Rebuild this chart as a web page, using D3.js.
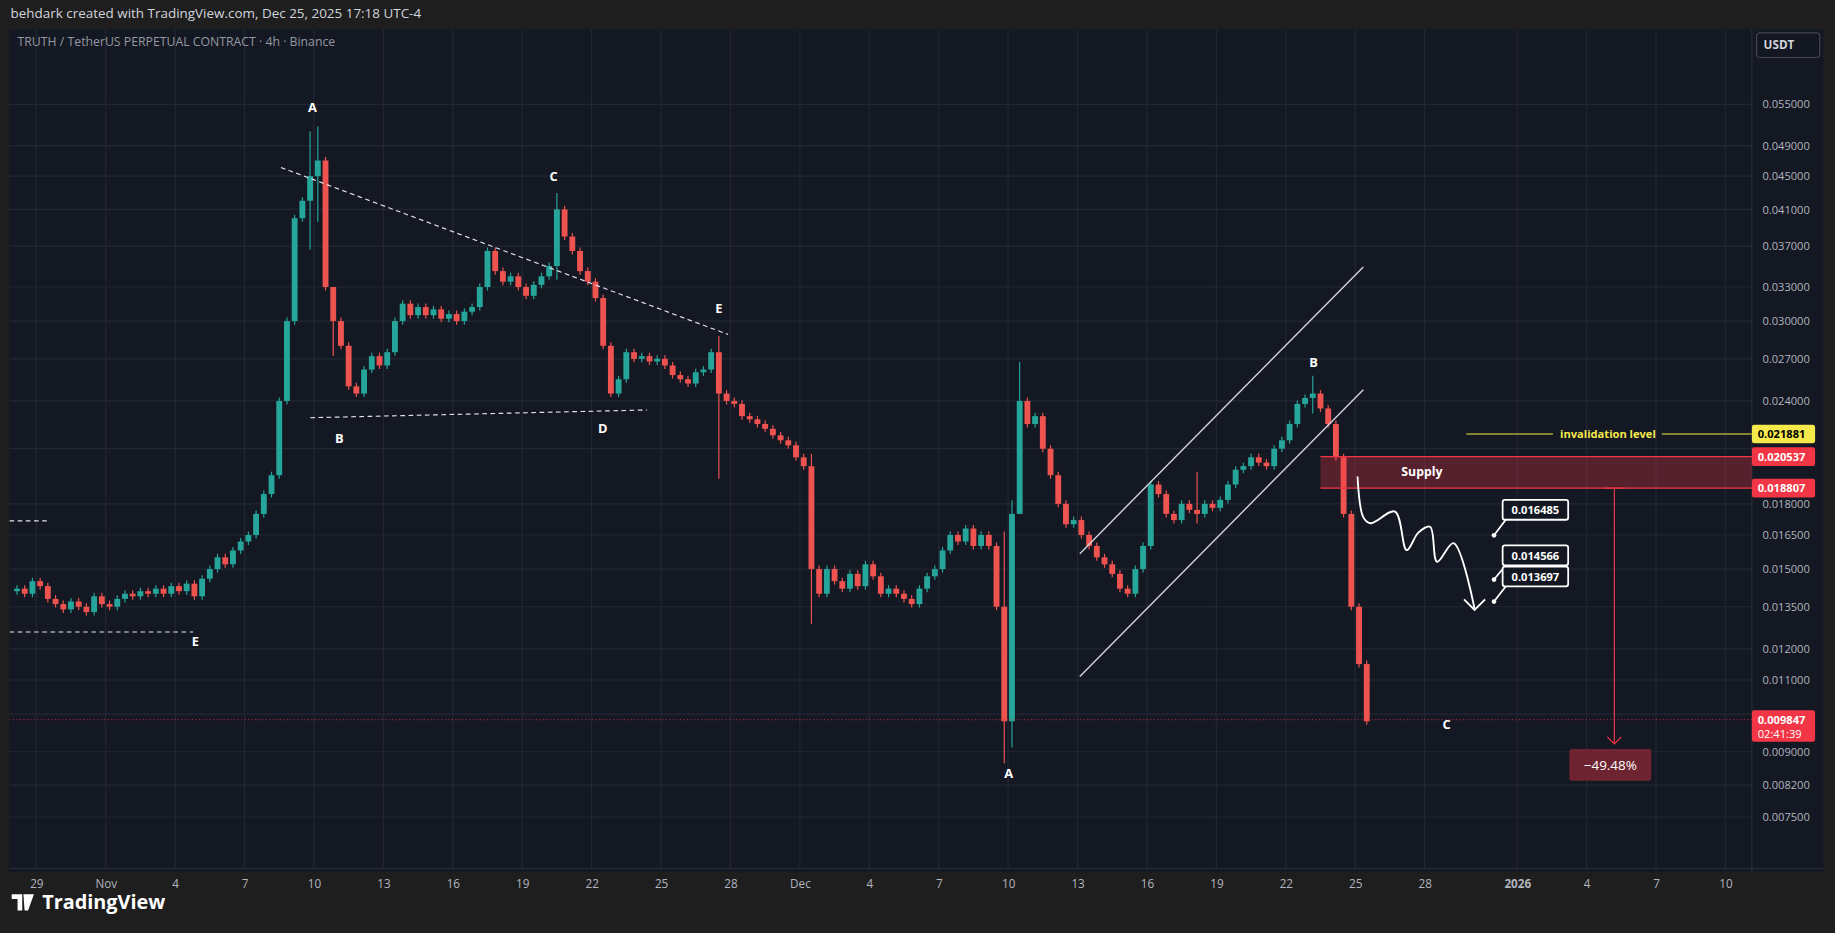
<!DOCTYPE html>
<html><head><meta charset="utf-8">
<script src="https://cdn.jsdelivr.net/npm/d3@7"></script>
<style>body{margin:0;background:#1e1e1e;overflow:hidden}svg{display:block}</style>
</head><body><div id="chart"></div>
<script>
// 8h closes, one row per day starting Oct 28
const closes = [
  .0142,.0140,.0145, .0143,.0138,.0136, .0134,.0137,.0135, .0133,.0139,.0136,
  .0135,.0138,.0140, .0139,.0141,.0140, .0142,.0140,.0143, .0141,.0144,.0139,
  .0146,.0150,.0155, .0152,.0158,.0162, .0165,.0175,.0185, .0195,.0240,.0300,
  .0400,.0420,.0450, .0470,.0330,.0300, .0280,.0250,.0245, .0262,.0272,.0265,
  .0275,.0300,.0315, .0305,.0312,.0305, .0310,.0302,.0306, .0300,.0308,.0312,
  .0330,.0365,.0345, .0335,.0340,.0330, .0322,.0332,.0340, .0350,.0410,.0380,
  .0365,.0345,.0335, .0320,.0280,.0245, .0255,.0275,.0270, .0272,.0268,.0270,
  .0265,.0258,.0255, .0252,.0260,.0262, .0275,.0245,.0240, .0238,.0230,.0228,
  .0225,.0222,.0218, .0215,.0212,.0205, .0200,.0150,.0140, .0150,.0145,.0142,
  .0148,.0143,.0152, .0147,.0140,.0142, .0140,.0138,.0136, .0142,.0147,.0150,
  .0158,.0165,.0162, .0168,.0160,.0165, .0160,.0135,.0098, .0175,.0240,.0225,
  .0230,.0210,.0195, .0180,.0170,.0172, .0165,.0160,.0155, .0152,.0148,.0142,
  .0140,.0150,.0160, .0190,.0185,.0175, .0172,.0180,.0177, .0175,.0180,.0178,
  .0182,.0190,.0198, .0200,.0205,.0202, .0200,.0210,.0215, .0225,.0238,.0242,
  .0245,.0235,.0225, .0205,.0175,.0135, .0115,.0098
];
const firstOpen = .0141;
// notable wick extremes: [candle index, high, low]
const wicks = [[38,.0505,.037],[39,.0512,.040],[41,.0310,.0275],[70,.0425,.034],[91,.0285,.0195],[103,.0205,.0130],
  [128,.0165,.0088],[129,.0180,.0092],[130,.0265,.0215],[153,.0195,.0172],[168,.0255,.0234]];

const priceTicks = [.055,.049,.045,.041,.037,.033,.030,.027,.024,.018,.0165,.015,.0135,.012,.011,.009,.0082,.0075];
const hiddenGrid = [.021,.010];
const dateTicks = [["29",0],["Nov",3],["4",6],["7",9],["10",12],["13",15],["16",18],["19",21],["22",24],["25",27],["28",30],
  ["Dec",33],["4",36],["7",39],["10",42],["13",45],["16",48],["19",51],["22",54],["25",57],["28",60],["2026",64],["4",67],["7",70],["10",73]];
const letters = [["A",11.94,.0545],["B",13.1,.0216],["C",22.36,.045],["D",24.48,.0222],["E",29.5,.0311],["E",6.88,.01225],
  ["A",42.03,.00847],["B",55.2,.0267],["C",60.95,.00971]];
const triangle = [[[10.57,.0461],[29.9,.0289]],[[11.84,.0229],[26.4,.0234]],[[-1.16,.01258],[6.78,.01258]],[[-1.16,.01716],[0.45,.01716]]];
const channel = [[[45.1,.01566],[57.35,.0349]],[[45.1,.01111],[57.35,.02476]]];
const levels = [[.021881,"#f5e94b","#000"],[.020537,"#f23645","#fff"],[.018807,"#f23645","#fff"]];
const targets = [.016485,.014566,.013697];
const lastPrice = .009847;

const W = 1568, H = 797;
const svg = d3.select("#chart").append("svg").attr("width",1835).attr("height",933)
  .attr("viewBox",`0 0 ${W} ${H}`).style("font-family","'Open Sans',Roboto,sans-serif");
const x = d3.scaleLinear().domain([0,57]).range([31,1158]);
const y = d3.scaleLog().domain([.055,.0075]).range([89,698]);
const L = 8, R = 1497, T = 25, B = 742;

svg.append("rect").attr("width",W).attr("height",H).attr("fill","#1e1e1e");
svg.append("text").attr("x",9).attr("y",15).attr("fill","#d1d4dc").attr("font-size",11.5)
  .text("behdark created with TradingView.com, Dec 25, 2025 17:18 UTC-4");
svg.append("rect").attr("x",L).attr("y",T).attr("width",1558-L).attr("height",B-T+3).attr("fill","#141823");
svg.append("defs").append("clipPath").attr("id","cp").append("rect").attr("x",L).attr("y",T).attr("width",R-L).attr("height",B-T);

const grid = svg.append("g").attr("stroke","#232733");
dateTicks.forEach(d => grid.append("line").attr("x1",x(d[1])).attr("x2",x(d[1])).attr("y1",T).attr("y2",B));
priceTicks.concat(hiddenGrid).forEach(p => grid.append("line").attr("x1",L).attr("x2",R).attr("y1",y(p)).attr("y2",y(p)));
svg.append("line").attr("x1",R).attr("x2",R).attr("y1",T).attr("y2",B+3).attr("stroke","#2a2e39");
svg.append("line").attr("x1",L).attr("x2",1558).attr("y1",B).attr("y2",B).attr("stroke","#2a2e39");

svg.append("text").attr("x",15).attr("y",39).attr("fill","#9598a1").attr("font-size",10.5)
  .text("TRUTH / TetherUS PERPETUAL CONTRACT · 4h · Binance");

const plot = svg.append("g").attr("clip-path","url(#cp)");
const cw = x(1/3) - x(0);
closes.forEach((c,i) => {
  const o = i === 0 ? firstOpen : closes[i-1];
  const t = -1 + (i + 0.5) / 3;
  const w = wicks.find(k => k[0] === i);
  const hi = w ? w[1] : Math.max(o,c), lo = w ? w[2] : Math.min(o,c);
  const col = c >= o ? "#26a69a" : "#ef5350";
  const cx = x(t);
  plot.append("line").attr("x1",cx).attr("x2",cx).attr("y1",y(hi)-3).attr("y2",y(lo)+3).attr("stroke",col);
  plot.append("rect").attr("x",cx-cw*0.38).attr("width",cw*0.76)
    .attr("y",y(Math.max(o,c))).attr("height",Math.max(1,Math.abs(y(o)-y(c)))).attr("fill",col);
});

// drawings
triangle.forEach(s => plot.append("line").attr("x1",x(s[0][0])).attr("y1",y(s[0][1])).attr("x2",x(s[1][0])).attr("y2",y(s[1][1]))
  .attr("stroke","#e0e3eb").attr("stroke-dasharray","4,3"));
channel.forEach(s => plot.append("line").attr("x1",x(s[0][0])).attr("y1",y(s[0][1])).attr("x2",x(s[1][0])).attr("y2",y(s[1][1]))
  .attr("stroke","#d1d4dc").attr("stroke-width",1.2));

letters.forEach(d => svg.append("text").attr("x",x(d[1])).attr("y",y(d[2])).attr("dy","0.35em").attr("text-anchor","middle")
  .attr("fill","#fff").attr("font-size",11).attr("font-weight","bold").text(d[0]));

// supply zone
plot.append("rect").attr("x",x(55.5)).attr("width",R-x(55.5)).attr("y",y(levels[1][0]))
  .attr("height",y(levels[2][0])-y(levels[1][0])).attr("fill","rgba(242,54,69,0.3)");
[levels[1][0],levels[2][0]].forEach(p => plot.append("line").attr("x1",x(55.5)).attr("x2",R).attr("y1",y(p)).attr("y2",y(p)).attr("stroke","#f23645"));
svg.append("text").attr("x",1215).attr("y",y(.0197)+4).attr("text-anchor","middle").attr("fill","#fff")
  .attr("font-size",10.5).attr("font-weight","bold").text("Supply");
// invalidation
plot.append("line").attr("x1",1253).attr("x2",1327).attr("y1",y(levels[0][0])).attr("y2",y(levels[0][0])).attr("stroke","#f5e94b");
plot.append("line").attr("x1",1420).attr("x2",R).attr("y1",y(levels[0][0])).attr("y2",y(levels[0][0])).attr("stroke","#f5e94b");
svg.append("text").attr("x",1374).attr("y",y(levels[0][0])+3.5).attr("text-anchor","middle").attr("fill","#f5e94b")
  .attr("font-size",9.5).attr("font-weight","bold").text("invalidation level");

// wavy path
const wave = [[1160,407],[1165,442],[1171,447],[1192,437],[1202,470],[1212,455],[1222,450],[1228,480],[1242,464],[1260,520]];
plot.append("path").attr("d",d3.line().curve(d3.curveCatmullRom)(wave)).attr("fill","none").attr("stroke","#fff").attr("stroke-width",1.6);
plot.append("path").attr("d","M1251,512 L1260,521 L1269,512").attr("fill","none").attr("stroke","#fff").attr("stroke-width",1.6);

// target callouts
const boxY = [435,474,492];
const dotX = x(63.0);
targets.forEach((p,i) => {
  const g = svg.append("g");
  g.append("path").attr("d",`M${dotX},${y(p)} L1289,${boxY[i]+6} L1296,${boxY[i]+6}`).attr("fill","none").attr("stroke","#fff").attr("stroke-width",1.5);
  g.append("circle").attr("cx",dotX).attr("cy",y(p)).attr("r",2).attr("fill","#fff");
  g.append("rect").attr("x",1284).attr("y",boxY[i]-8).attr("width",56).attr("height",17).attr("rx",2)
    .attr("fill","#131722").attr("stroke","#fff").attr("stroke-width",1.5);
  g.append("text").attr("x",1312).attr("y",boxY[i]+4).attr("text-anchor","middle").attr("fill","#fff")
    .attr("font-size",9.5).attr("font-weight","bold").text(p.toFixed(6));
});

// measure arrow
const mx = x(68.2);
svg.append("line").attr("x1",mx-9).attr("x2",mx+9).attr("y1",y(.018807)).attr("y2",y(.018807)).attr("stroke","#f23645");
svg.append("line").attr("x1",mx).attr("x2",mx).attr("y1",y(.018807)).attr("y2",y(.0092)).attr("stroke","#f23645");
svg.append("path").attr("d",`M${mx-6},${y(.0092)-6} L${mx},${y(.0092)} L${mx+6},${y(.0092)-6}`).attr("fill","none").attr("stroke","#f23645");
svg.append("rect").attr("x",1341).attr("y",640).attr("width",70).attr("height",27).attr("rx",2).attr("fill","#6e2430");
svg.append("text").attr("x",1376).attr("y",658).attr("text-anchor","middle").attr("fill","#fff").attr("font-size",11.5).text("\u221249.48%");

// axes
const xa = svg.append("g").attr("transform",`translate(0,${B})`).call(d3.axisBottom(x).tickValues(dateTicks.map(d=>d[1])).tickFormat((d,i)=>dateTicks[i][0]).tickSize(0));
xa.select(".domain").remove();
xa.selectAll("text").attr("fill","#b2b5be").attr("font-size",10).attr("dy","1.35em").attr("font-family","'Open Sans',sans-serif");
xa.selectAll("text").filter((d,i)=>dateTicks[i][0]==="2026").attr("font-weight","bold");
const ya = svg.append("g").attr("transform",`translate(${R},0)`).call(d3.axisRight(y).tickValues(priceTicks).tickFormat(d=>d.toFixed(6)).tickSize(0));
ya.select(".domain").remove();
ya.selectAll("text").attr("fill","#b2b5be").attr("font-size",9.5).attr("dx","6").attr("font-family","'Open Sans',sans-serif");

// price labels
const tag = (p,bg,fg,h) => { const g = svg.append("g");
  g.append("rect").attr("x",R).attr("y",y(p)-8).attr("width",54).attr("height",h).attr("rx",2).attr("fill",bg);
  g.append("text").attr("x",R+5).attr("y",y(p)+3.5).attr("fill",fg).attr("font-size",9.5).attr("font-weight","bold").text(p.toFixed(6));
  return g; };
levels.forEach(l => tag(l[0],l[1],l[2],16));
const lt = tag(lastPrice,"#f23645","#fff",27);
lt.append("text").attr("x",R+5).attr("y",y(lastPrice)+15.5).attr("fill","#fff").attr("font-size",9.5).text("02:41:39");
plot.append("line").attr("x1",L).attr("x2",R).attr("y1",y(lastPrice)).attr("y2",y(lastPrice)).attr("stroke","#f23645").attr("stroke-dasharray","1,2").attr("opacity",0.6);

svg.append("rect").attr("x",1501).attr("y",28).attr("width",54).attr("height",21).attr("rx",3).attr("fill","#131722").attr("stroke","#434651");
svg.append("text").attr("x",1507).attr("y",42).attr("fill","#d1d4dc").attr("font-size",10).attr("font-weight","bold").text("USDT");

// footer logo
svg.append("path").attr("d","M10,764 h9 v14 h-4 v-10 h-5z M20,764 h4 l-3,14 h-0z M24,764 h5 l-5,14 h-3z").attr("fill","#fff");
svg.append("text").attr("x",36).attr("y",777).attr("fill","#fff").attr("font-size",17).attr("font-weight","bold").text("TradingView");
</script></body></html>
